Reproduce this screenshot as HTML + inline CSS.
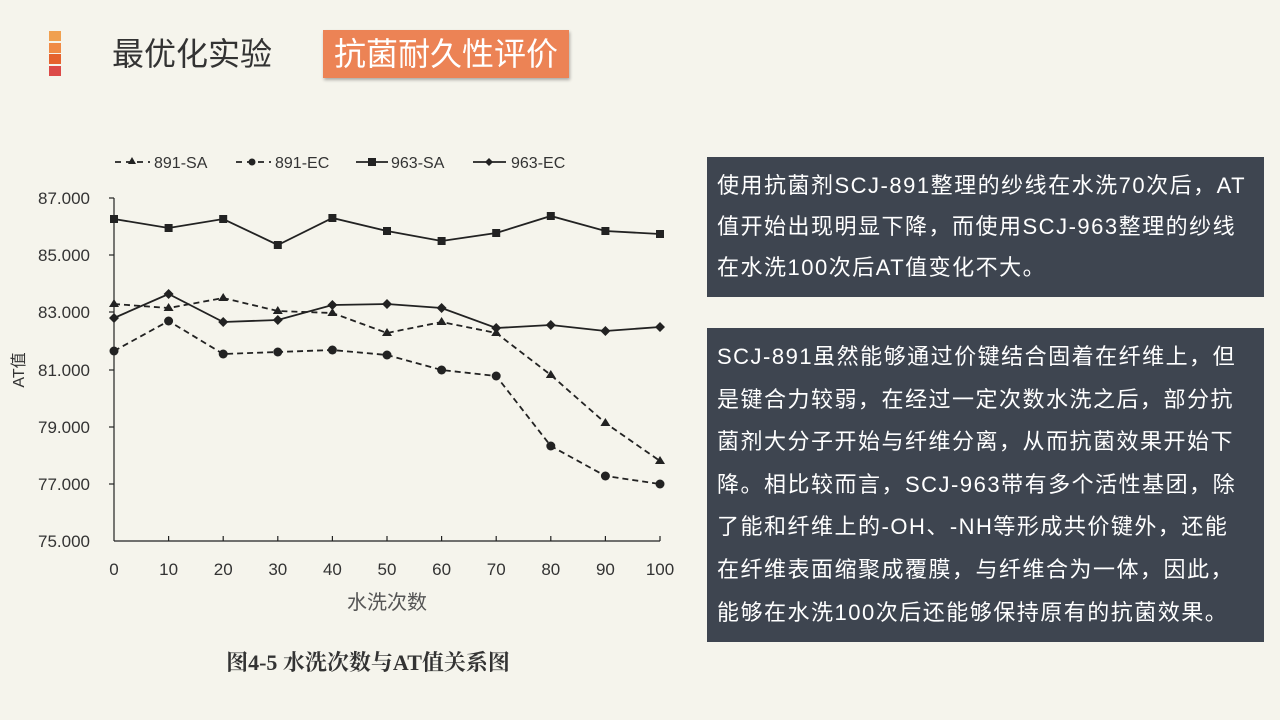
<!DOCTYPE html>
<html><head><meta charset="utf-8"><style>
body{margin:0;width:1280px;height:720px;background:#f5f4ec;position:relative;overflow:hidden;font-family:"Liberation Sans","Noto Sans CJK SC",sans-serif}
.sq{position:absolute;left:49px;width:12px;height:10px}
.box{position:absolute;left:707px;width:557px;background:#3e4550;color:#fff;font-size:22px;line-height:42px;padding:0 0 0 10px;box-sizing:border-box;white-space:nowrap;letter-spacing:1.5px;overflow:hidden}
</style></head><body>
<div class="sq" style="top:31px;background:#f0a050"></div>
<div class="sq" style="top:43px;background:#f08a45"></div>
<div class="sq" style="top:54px;background:#e5622d"></div>
<div class="sq" style="top:66px;background:#dc4a48"></div>
<div style="position:absolute;left:112px;top:34px;font-size:32px;color:#333;line-height:40px">最优化实验</div>
<div style="position:absolute;left:323px;top:30px;width:246px;height:48px;background:#ec8355;color:#fff;font-size:32px;line-height:48px;text-align:center;box-shadow:1px 2px 3px rgba(0,0,0,.3)">抗菌耐久性评价</div>
<div class="box" style="top:157px;height:140px;padding-top:8px;line-height:41px">使用抗菌剂SCJ-891整理的纱线在水洗70次后，AT<br>值开始出现明显下降，而使用SCJ-963整理的纱线<br>在水洗100次后AT值变化不大。</div>
<div class="box" style="top:328px;height:314px;padding-top:8px;line-height:42.6px">SCJ-891虽然能够通过价键结合固着在纤维上，但<br>是键合力较弱，在经过一定次数水洗之后，部分抗<br>菌剂大分子开始与纤维分离，从而抗菌效果开始下<br>降。相比较而言，SCJ-963带有多个活性基团，除<br>了能和纤维上的-OH、-NH等形成共价键外，还能<br>在纤维表面缩聚成覆膜，与纤维合为一体，因此，<br>能够在水洗100次后还能够保持原有的抗菌效果。</div>
<svg width="700" height="720" style="position:absolute;left:0;top:0" font-family="Liberation Sans, Noto Sans CJK SC, sans-serif">
<g fill="#333" font-size="17">
<g stroke="#222" fill="none">
<line x1="114" y1="198" x2="114" y2="541" stroke-width="1.2"/>
<line x1="114" y1="541" x2="660" y2="541" stroke-width="1.2"/>
</g>
<g stroke="#222" stroke-width="1.2">
<line x1="109" y1="198" x2="114" y2="198"/><line x1="109" y1="255" x2="114" y2="255"/><line x1="109" y1="312" x2="114" y2="312"/><line x1="109" y1="370" x2="114" y2="370"/><line x1="109" y1="427" x2="114" y2="427"/><line x1="109" y1="484" x2="114" y2="484"/>
<line x1="168.6" y1="541" x2="168.6" y2="536"/><line x1="223.2" y1="541" x2="223.2" y2="536"/><line x1="277.8" y1="541" x2="277.8" y2="536"/><line x1="332.4" y1="541" x2="332.4" y2="536"/><line x1="387" y1="541" x2="387" y2="536"/><line x1="441.6" y1="541" x2="441.6" y2="536"/><line x1="496.2" y1="541" x2="496.2" y2="536"/><line x1="550.8" y1="541" x2="550.8" y2="536"/><line x1="605.4" y1="541" x2="605.4" y2="536"/><line x1="660" y1="541" x2="660" y2="536"/>
</g>
<g text-anchor="end"><text x="90" y="204">87.000</text><text x="90" y="261">85.000</text><text x="90" y="318">83.000</text><text x="90" y="376">81.000</text><text x="90" y="433">79.000</text><text x="90" y="490">77.000</text><text x="90" y="547">75.000</text></g>
<g text-anchor="middle"><text x="114" y="575">0</text><text x="168.6" y="575">10</text><text x="223.2" y="575">20</text><text x="277.8" y="575">30</text><text x="332.4" y="575">40</text><text x="387" y="575">50</text><text x="441.6" y="575">60</text><text x="496.2" y="575">70</text><text x="550.8" y="575">80</text><text x="605.4" y="575">90</text><text x="660" y="575">100</text>
<text x="387" y="609" font-size="20" fill="#555">水洗次数</text></g>
<text transform="translate(24,370) rotate(-90)" text-anchor="middle" font-size="16">AT值</text>
</g>
<g fill="none" stroke="#222" stroke-width="1.8">
<polyline points="114,219 168.6,228 223.2,219 277.8,245 332.4,218 387,231 441.6,241 496.2,233 550.8,216 605.4,231 660,234"/>
<polyline points="114,318 168.6,294 223.2,322 277.8,320 332.4,305 387,304 441.6,308 496.2,328 550.8,325 605.4,331 660,327"/>
<polyline stroke-dasharray="6,4" points="114,304 168.6,308 223.2,298 277.8,311 332.4,313 387,333 441.6,322 496.2,333 550.8,375 605.4,423 660,461"/>
<polyline stroke-dasharray="6,4" points="114,351 168.6,321 223.2,354 277.8,352 332.4,350 387,355 441.6,370 496.2,376 550.8,446 605.4,476 660,484"/>
</g>
<g fill="#222">
<rect x="110" y="215" width="8" height="8"/><rect x="164.6" y="224" width="8" height="8"/><rect x="219.2" y="215" width="8" height="8"/><rect x="273.8" y="241" width="8" height="8"/><rect x="328.4" y="214" width="8" height="8"/><rect x="383" y="227" width="8" height="8"/><rect x="437.6" y="237" width="8" height="8"/><rect x="492.2" y="229" width="8" height="8"/><rect x="546.8" y="212" width="8" height="8"/><rect x="601.4" y="227" width="8" height="8"/><rect x="656" y="230" width="8" height="8"/>
<path d="M114,313l5,5-5,5-5-5zM168.6,289l5,5-5,5-5-5zM223.2,317l5,5-5,5-5-5zM277.8,315l5,5-5,5-5-5zM332.4,300l5,5-5,5-5-5zM387,299l5,5-5,5-5-5zM441.6,303l5,5-5,5-5-5zM496.2,323l5,5-5,5-5-5zM550.8,320l5,5-5,5-5-5zM605.4,326l5,5-5,5-5-5zM660,322l5,5-5,5-5-5z"/>
<path d="M114,299l5,8h-10zM168.6,303l5,8h-10zM223.2,293l5,8h-10zM277.8,306l5,8h-10zM332.4,308l5,8h-10zM387,328l5,8h-10zM441.6,317l5,8h-10zM496.2,328l5,8h-10zM550.8,370l5,8h-10zM605.4,418l5,8h-10zM660,456l5,8h-10z"/>
<circle cx="114" cy="351" r="4.5"/><circle cx="168.6" cy="321" r="4.5"/><circle cx="223.2" cy="354" r="4.5"/><circle cx="277.8" cy="352" r="4.5"/><circle cx="332.4" cy="350" r="4.5"/><circle cx="387" cy="355" r="4.5"/><circle cx="441.6" cy="370" r="4.5"/><circle cx="496.2" cy="376" r="4.5"/><circle cx="550.8" cy="446" r="4.5"/><circle cx="605.4" cy="476" r="4.5"/><circle cx="660" cy="484" r="4.5"/>
</g>
<g font-size="16" fill="#333">
<line x1="115" y1="162" x2="150" y2="162" stroke="#222" stroke-width="1.8" stroke-dasharray="6,5"/><path d="M132,157l4,7h-8z" fill="#222"/><text x="154" y="168">891-SA</text>
<line x1="236" y1="162" x2="271" y2="162" stroke="#222" stroke-width="1.8" stroke-dasharray="6,5"/><circle cx="252" cy="162" r="3.5" fill="#222"/><text x="275" y="168">891-EC</text>
<line x1="356" y1="162" x2="388" y2="162" stroke="#222" stroke-width="1.8"/><rect x="368" y="158" width="8" height="8" fill="#222"/><text x="391" y="168">963-SA</text>
<line x1="473" y1="162" x2="506" y2="162" stroke="#222" stroke-width="1.8"/><path d="M489,158l4,4-4,4-4-4z" fill="#222"/><text x="511" y="168">963-EC</text>
</g>
<text x="368" y="670" text-anchor="middle" font-size="22" font-weight="bold" fill="#333" font-family="Liberation Serif, Noto Serif CJK SC, serif">图4-5 水洗次数与AT值关系图</text>
</svg>
</body></html>
